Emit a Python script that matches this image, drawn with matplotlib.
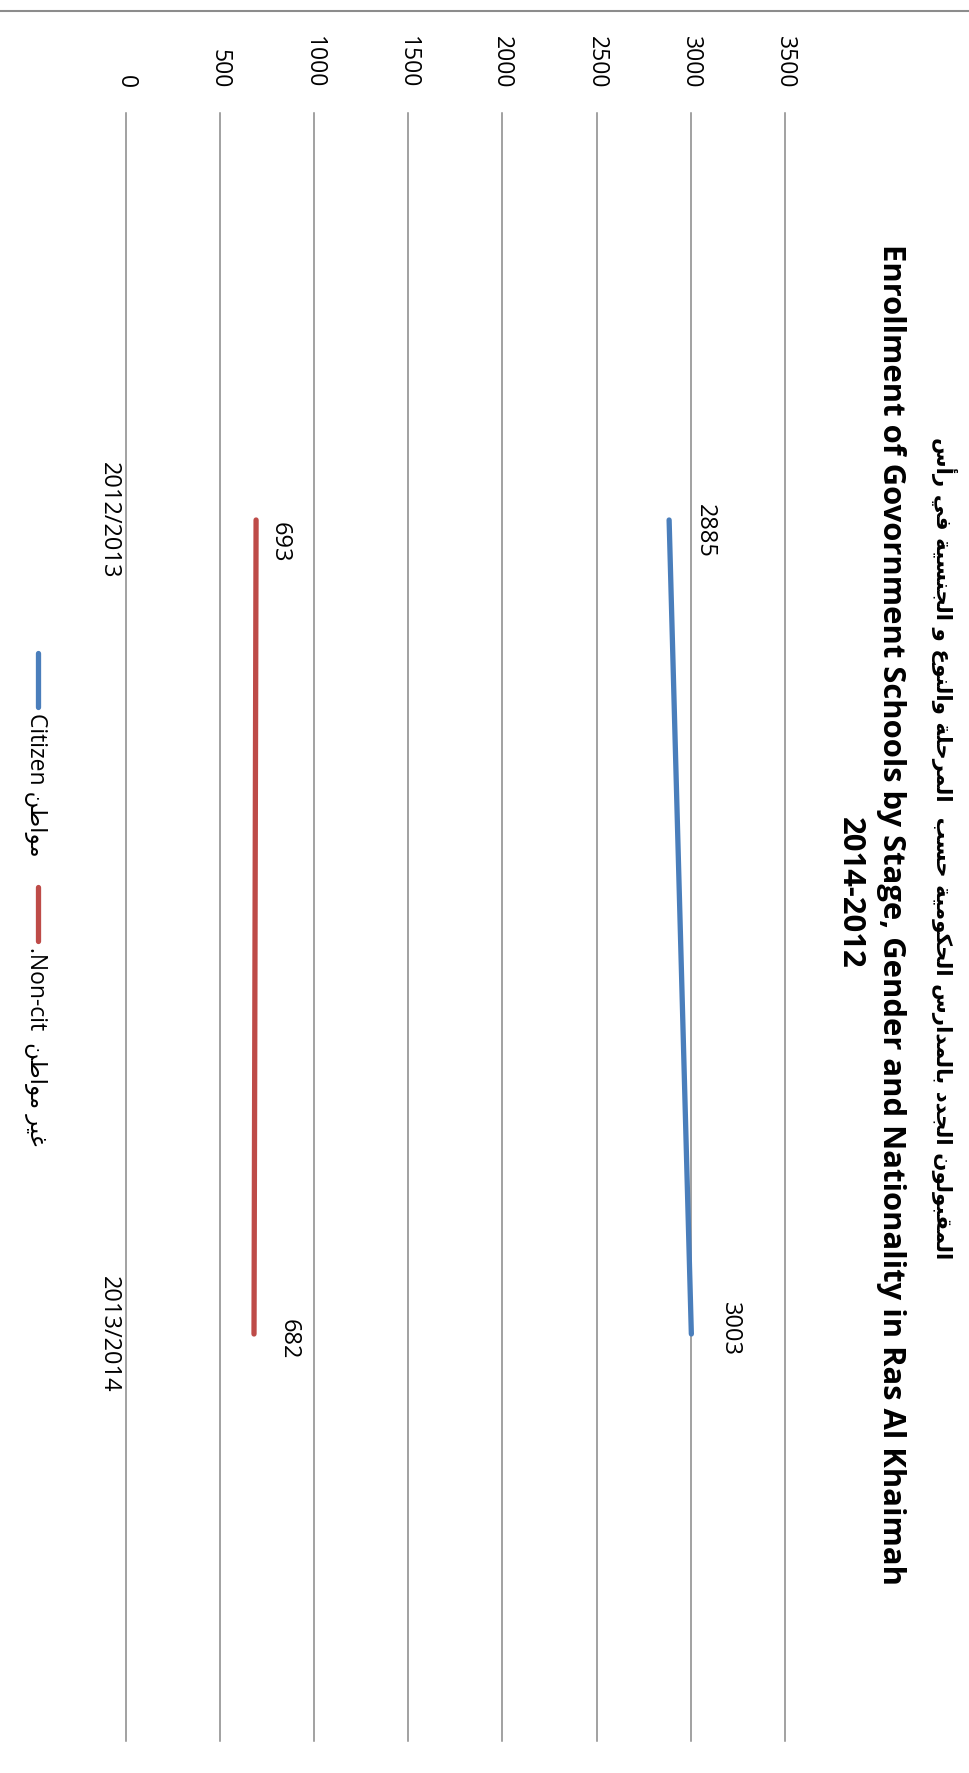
import matplotlib
matplotlib.use("Agg")
import matplotlib.pyplot as plt
from matplotlib.lines import Line2D

# ---------------- data ----------------
categories = ["2012/2013", "2013/2014"]
citizen = [2885, 3003]
non_citizen = [693, 682]
series_en = ["Citizen", "Non-cit."]
series_ar = ["مواطن", "غير مواطن"]
series_colors = ["#4A7EBB", "#BE4B48"]
value_ticks = [0, 500, 1000, 1500, 2000, 2500, 3000, 3500]
title_ar = "المقبولون الجدد بالمدارس الحكومية حسب  المرحلة والنوع و الجنسية في رأس"
title_en = "Enrollment of Govornment Schools by Stage, Gender and Nationality in Ras Al Khaimah"
title_years = "2014-2012"

# ---------------- minimal Arabic shaping (presentation forms) ----------------
FORMS = {
    '\u0627': ('\uFE8D', '\uFE8E', None, None),
    '\u0623': ('\uFE83', '\uFE84', None, None),
    '\u0628': ('\uFE8F', '\uFE90', '\uFE91', '\uFE92'),
    '\u0629': ('\uFE93', '\uFE94', None, None),
    '\u062C': ('\uFE9D', '\uFE9E', '\uFE9F', '\uFEA0'),
    '\u062D': ('\uFEA1', '\uFEA2', '\uFEA3', '\uFEA4'),
    '\u062F': ('\uFEA9', '\uFEAA', None, None),
    '\u0631': ('\uFEAD', '\uFEAE', None, None),
    '\u0633': ('\uFEB1', '\uFEB2', '\uFEB3', '\uFEB4'),
    '\u0637': ('\uFEC1', '\uFEC2', '\uFEC3', '\uFEC4'),
    '\u0639': ('\uFEC9', '\uFECA', '\uFECB', '\uFECC'),
    '\u063A': ('\uFECD', '\uFECE', '\uFECF', '\uFED0'),
    '\u0641': ('\uFED1', '\uFED2', '\uFED3', '\uFED4'),
    '\u0642': ('\uFED5', '\uFED6', '\uFED7', '\uFED8'),
    '\u0643': ('\uFED9', '\uFEDA', '\uFEDB', '\uFEDC'),
    '\u0644': ('\uFEDD', '\uFEDE', '\uFEDF', '\uFEE0'),
    '\u0645': ('\uFEE1', '\uFEE2', '\uFEE3', '\uFEE4'),
    '\u0646': ('\uFEE5', '\uFEE6', '\uFEE7', '\uFEE8'),
    '\u0647': ('\uFEE9', '\uFEEA', '\uFEEB', '\uFEEC'),
    '\u0648': ('\uFEED', '\uFEEE', None, None),
    '\u064A': ('\uFEF1', '\uFEF2', '\uFEF3', '\uFEF4'),
}


def shape(s):
    out = []
    for i, c in enumerate(s):
        f = FORMS.get(c)
        if f is None:
            out.append(c)
            continue
        prev = s[i - 1] if i > 0 else ''
        nxt = s[i + 1] if i + 1 < len(s) else ''
        jp = prev in FORMS and FORMS[prev][2] is not None
        jn = nxt in FORMS and f[2] is not None
        if jp and jn:
            g = f[3]
        elif jp:
            g = f[1]
        elif jn:
            g = f[2]
        else:
            g = f[0]
        out.append(g)
    return ''.join(reversed(out))


def rtl_latin(s):
    # RTL paragraph: trailing period shown at the start
    return '.' + s[:-1] if s.endswith('.') else s


# ---------------- figure ----------------
W, H = 970, 1773
fig = plt.figure(figsize=(W / 100, H / 100), dpi=100)
fig.patch.set_facecolor("white")

PLOT_L, PLOT_R, PLOT_T, PLOT_B = 125.5, 785, 113, 1741
ax = fig.add_axes([PLOT_L / W, 1 - PLOT_B / H, (PLOT_R - PLOT_L) / W, (PLOT_B - PLOT_T) / H])
ax.set_xlim(value_ticks[0], value_ticks[-1])
ax.set_ylim(len(categories) - 0.5, -0.5)
for s in ax.spines.values():
    s.set_visible(False)

ax.set_xticks(value_ticks)
ax.xaxis.tick_top()
ax.set_xticklabels([str(v) for v in value_ticks], rotation=270, fontsize=16.5, family="Open Sans")
ax.tick_params(axis="x", length=0, pad=18)

ax.set_yticks(range(len(categories)))
ax.set_yticklabels(categories, rotation=270, fontsize=17, family="Open Sans", va="center")
ax.tick_params(axis="y", length=0, pad=3)

ax.grid(axis="x", color="#878787", lw=1.1)
ax.set_axisbelow(True)
for gl in ax.get_xgridlines():
    gl.set_clip_on(False)

ypos = list(range(len(categories)))
series_vals = [citizen, non_citizen]
# label offsets in pixels (dx right, dy down)
label_offsets = [[(36, 11), (39, -5)], [(24, 22), (35, 5)]]
for vals, col, offs in zip(series_vals, series_colors, label_offsets):
    ax.plot(vals, ypos, color=col, lw=3.8, solid_capstyle="round", zorder=3)
    for v, y, (dx, dy) in zip(vals, ypos, offs):
        ax.annotate(str(v), (v, y), xytext=(dx * 0.72, -dy * 0.72), textcoords="offset points",
                    rotation=270, ha="center", va="center", fontsize=17, family="Open Sans")

# top border line
fig.add_artist(Line2D([0, 1], [1 - 11 / H] * 2, transform=fig.transFigure, color="#8c8c8c", lw=1.5))


def rtext(x, y, s, ha="center", va="baseline", **kw):
    return fig.text(x / W, 1 - y / H, s, rotation=270, rotation_mode="anchor", ha=ha, va=va, **kw)


# legend
legend_spans = [(653, 707), (887, 941)]
gaps = [" ", "  "]
for en, ar, col, (y0, y1), gap in zip(series_en, series_ar, series_colors, legend_spans, gaps):
    fig.add_artist(Line2D([38 / W] * 2, [1 - y0 / H, 1 - y1 / H], transform=fig.transFigure,
                          color=col, lw=3.8, solid_capstyle="round"))
    rtext(30, y1 + 6, rtl_latin(en) + gap + shape(ar), ha="left", fontsize=16.5,
          family=["Open Sans", "DejaVu Sans"])

# titles
t_en = rtext(883, 915, title_en, fontsize=25, fontweight="bold", family="Open Sans")
t_ar = rtext(936, 848, shape(title_ar), fontsize=22, fontweight="bold", family="DejaVu Sans")
fig.canvas.draw()
r = fig.canvas.get_renderer()
fs_en = 25 * 1346 / t_en.get_window_extent(r).height
t_en.set_fontsize(fs_en)
t_ar.set_fontsize(22 * 825 / t_ar.get_window_extent(r).height)
rtext(842, 893, title_years, fontsize=fs_en, fontweight="bold", family="Open Sans")

fig.savefig("out.png", dpi=100, facecolor="white")
